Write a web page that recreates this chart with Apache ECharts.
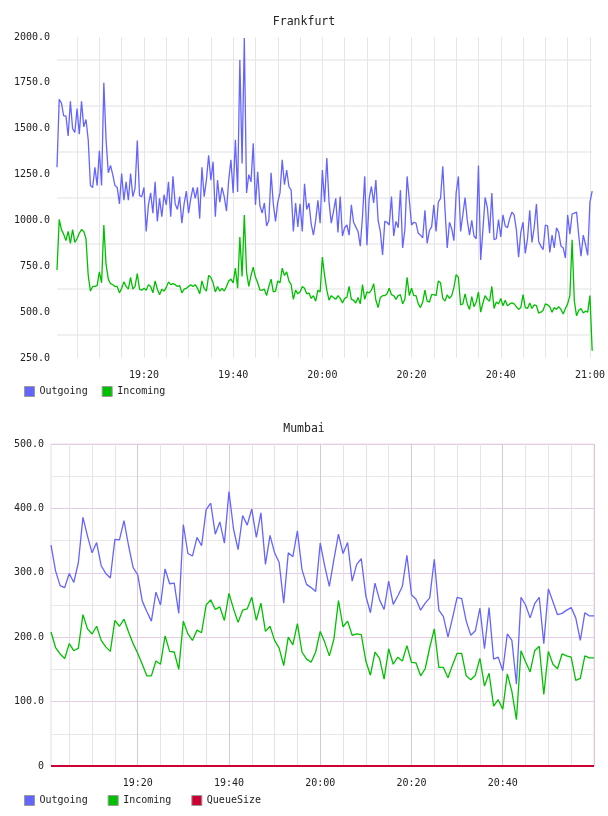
<!DOCTYPE html>
<html>
<head>
<meta charset="utf-8">
<title>Frankfurt / Mumbai</title>
<script src="https://cdn.jsdelivr.net/npm/echarts@6/dist/echarts.min.js"></script>
<style>
html, body { margin: 0; padding: 0; background: #fff; }
#container { width: 608px; height: 816px; }
</style>
</head>
<body>
<div id="container"></div>
<script>
var myChart = echarts.init(document.getElementById('container'));

// Frankfurt, one sample every 30 s starting 19:00:30
var fraOutgoing = [
  1290,1660,1640,1570,1570,1460,1650,1500,1480,1610,
  1470,1650,1510,1550,1440,1190,1180,1290,1190,1380,
  1190,1750,1440,1260,1300,1250,1190,1180,1090,1255,
  1110,1210,1110,1255,1130,1175,1435,1135,1130,1180,
  940,1085,1150,1040,1210,995,1120,1020,1140,1085,
  1210,1020,1240,1090,1060,1130,985,1090,1160,1040,
  1120,1180,1120,1180,1010,1290,1130,1220,1355,1220,
  1320,1020,1220,1100,1180,1130,1050,1220,1330,1150,
  1440,1155,1875,1310,1995,1150,1250,1210,1420,1085,
  1265,1080,1040,1095,970,1000,1260,1090,995,1100,
  1150,1330,1195,1275,1185,1165,940,1095,965,1090,
  940,1200,1060,1095,980,920,1000,1110,985,1275,
  1100,1340,1100,985,1050,1120,935,1130,915,960,
  975,920,1085,990,965,940,860,1020,1240,865,
  1120,1185,1095,1220,1000,940,812,995,990,975,
  1130,915,995,960,1165,850,950,1240,1110,975,
  990,985,930,920,905,1055,875,945,965,1085,
  940,1100,1120,1295,1060,850,990,955,890,1150,
  1240,940,1030,1125,1000,920,1000,915,900,1300,
  785,950,1125,1070,930,1150,895,900,1005,910,
  1030,970,960,1010,1045,1030,950,800,935,990,
  820,900,1055,880,960,1090,885,860,840,975,
  970,825,920,850,960,935,860,850,795,1030,
  925,1035,1040,1045,915,805,920,870,810,1100,1160
];
var fraIncoming = [
  730,1005,950,925,890,940,875,950,880,900,
  930,950,940,900,700,615,640,640,645,720,
  660,975,760,680,655,650,640,640,605,630,
  665,640,625,690,625,640,710,625,620,630,
  620,650,640,605,670,625,595,625,615,635,
  665,650,655,650,640,645,605,625,630,640,
  650,640,650,630,600,670,630,615,700,690,
  660,610,640,615,630,615,640,670,680,660,
  740,630,910,695,1030,720,640,700,745,690,
  660,620,620,625,590,640,680,610,615,670,
  660,740,700,720,670,650,570,620,600,610,
  640,630,600,605,575,590,560,620,610,800,
  700,620,565,590,580,570,590,575,550,575,
  580,640,570,565,550,580,545,650,570,610,
  605,620,655,565,525,580,590,590,600,630,
  595,590,570,590,595,545,570,690,590,630,
  590,590,545,525,555,620,560,555,595,595,
  590,670,660,575,560,595,575,590,635,705,
  690,540,545,600,545,515,585,530,555,610,
  500,550,590,570,560,640,520,555,545,575,
  535,565,535,545,550,545,530,515,525,595,
  525,520,550,520,540,535,495,500,510,545,
  540,530,500,525,515,530,515,490,520,545,
  590,895,560,480,510,520,495,505,500,590,290
];

// Mumbai, one sample per minute starting 19:01
var mumOutgoing = [
  343,303,280,277,299,285,316,386,357,331,
  347,311,299,292,352,351,381,342,308,297,
  256,240,225,270,250,306,283,284,237,375,
  330,326,355,342,398,408,360,379,346,426,
  368,336,389,374,399,355,393,313,358,331,
  316,253,331,325,365,305,282,277,271,346,
  310,279,321,360,330,347,287,313,322,264,
  238,284,258,243,287,251,264,279,327,266,
  259,242,253,261,321,242,232,200,230,262,
  260,225,203,210,245,182,246,166,169,148,
  205,195,127,262,250,230,252,262,190,275,
  255,235,237,242,246,230,195,238,233,233
];
var mumIncoming = [
  208,184,174,167,190,179,183,235,213,205,
  217,195,185,178,226,217,228,208,190,175,
  158,140,140,163,158,202,178,177,150,225,
  205,195,211,207,250,258,243,247,226,268,
  244,223,242,244,262,226,253,209,217,195,
  183,156,200,188,221,177,166,161,177,209,
  192,171,197,257,216,225,203,205,204,163,
  141,177,167,135,182,158,169,163,187,161,
  160,140,151,184,213,153,153,137,157,175,
  175,140,134,141,167,124,144,93,103,88,
  143,116,72,179,162,146,179,186,111,178,
  158,151,174,171,169,133,136,171,168,168
];
var mumQueueSize = [
  0,0,0,0,0,0,0,0,0,0, 0,0,0,0,0,0,0,0,0,0,
  0,0,0,0,0,0,0,0,0,0, 0,0,0,0,0,0,0,0,0,0,
  0,0,0,0,0,0,0,0,0,0, 0,0,0,0,0,0,0,0,0,0,
  0,0,0,0,0,0,0,0,0,0, 0,0,0,0,0,0,0,0,0,0,
  0,0,0,0,0,0,0,0,0,0, 0,0,0,0,0,0,0,0,0,0,
  0,0,0,0,0,0,0,0,0,0, 0,0,0,0,0,0,0,0,0,0
];

var fraTimeLabels = ['19:20', '19:40', '20:00', '20:20', '20:40', '21:00'];
var mumTimeLabels = ['19:20', '19:40', '20:00', '20:20', '20:40'];

function pad(n) { return (n < 10 ? '0' : '') + n; }

// sample times as "hh:mm:ss"
function timeList(h, m, s, step, n) {
  var out = [];
  var t = h * 3600 + m * 60 + s;
  for (var i = 0; i < n; i++) {
    out.push(Math.floor(t / 3600) + ':' + pad(Math.floor(t % 3600 / 60)) + ':' + pad(t % 60));
    t += step;
  }
  return out;
}

var fraTimes = timeList(19, 0, 30, 30, fraOutgoing.length);
var mumTimes = timeList(19, 1, 0, 60, mumOutgoing.length);

function onMinute(v) { return v.slice(-2) === '00'; }
function labelsAt(list) {
  return function (i, v) { return onMinute(v) && list.indexOf(v.slice(0, 5)) >= 0; };
}
function every5(i, v) { return onMinute(v) && +v.slice(-5, -3) % 5 === 0; }
function every20(i, v) { return onMinute(v) && +v.slice(-5, -3) % 20 === 0; }
function hhmm(v) { return v.slice(0, 5); }

var font = 'DejaVu Sans Mono';
var tickText = { fontFamily: font, fontSize: 10, color: '#222' };
var titleText = { fontFamily: font, fontSize: 11.5, fontWeight: 'normal', color: '#222' };
var legendText = { fontFamily: font, fontSize: 10, color: '#222' };

var blue = '#6464ff', green = '#00c000', red = '#cc0033';

var option = {
  animation: false,
  title: [
    { text: 'Frankfurt', left: 'center', top: 11, textStyle: titleText },
    { text: 'Mumbai', left: 'center', top: 418, textStyle: titleText }
  ],
  legend: [
    { data: ['Outgoing', 'Incoming'], left: 19, top: 381, icon: 'rect',
      itemWidth: 10, itemHeight: 10, itemGap: 14,
      itemStyle: { borderColor: '#999', borderWidth: 1 }, textStyle: legendText },
    { data: ['Outgoing', 'Incoming', 'QueueSize'], left: 19, top: 790, icon: 'rect',
      itemWidth: 10, itemHeight: 10, itemGap: 20,
      itemStyle: { borderColor: '#999', borderWidth: 1 }, textStyle: legendText }
  ],
  grid: [
    { left: 57, top: 37, width: 537, height: 321 },
    { left: 51, top: 444, width: 543, height: 322,
      show: true, borderColor: '#ead8ea', borderWidth: 1 }
  ],
  xAxis: [
    { gridIndex: 0, type: 'category', data: fraTimes, boundaryGap: false,
      axisLine: { show: false }, axisTick: { show: false },
      axisLabel: Object.assign({ interval: labelsAt(fraTimeLabels), margin: 12, formatter: hhmm }, tickText),
      splitLine: { show: true, interval: every5, lineStyle: { color: '#e6e6e6', width: 1 } } },
    { gridIndex: 1, type: 'category', data: mumTimes, boundaryGap: false,
      axisLine: { show: false }, axisTick: { show: false },
      axisLabel: Object.assign({ interval: labelsAt(mumTimeLabels), margin: 12, formatter: hhmm }, tickText),
      splitLine: { show: true, interval: every5, lineStyle: { color: '#e8e2e8', width: 1 } } },
    { gridIndex: 1, type: 'category', data: mumTimes, boundaryGap: false, position: 'top',
      axisLine: { show: false }, axisTick: { show: false }, axisLabel: { show: false },
      splitLine: { show: true, interval: every20, lineStyle: { color: '#dcc6dc', width: 1 } } }
  ],
  yAxis: [
    { gridIndex: 0, type: 'value', min: 250, max: 2000, interval: 250,
      axisLine: { show: false }, axisTick: { show: false },
      axisLabel: Object.assign({ margin: 7,
        formatter: function (v) { return v.toFixed(1); } }, tickText),
      splitLine: { show: false },
      minorTick: { show: false, splitNumber: 2 },
      minorSplitLine: { show: true, lineStyle: { color: '#f0f0f0', width: 2 } } },
    { gridIndex: 1, type: 'value', min: 0, max: 500, interval: 100,
      axisLine: { show: false }, axisTick: { show: false },
      axisLabel: Object.assign({ margin: 7,
        formatter: function (v) { return v === 0 ? '0' : v.toFixed(1); } }, tickText),
      splitLine: { show: true, lineStyle: { color: '#e4cce4', width: 1 } },
      minorTick: { show: false, splitNumber: 2 },
      minorSplitLine: { show: true, lineStyle: { color: '#e8e8e8', width: 1 } } }
  ],
  series: [
    { name: 'Outgoing', type: 'line', xAxisIndex: 0, yAxisIndex: 0, data: fraOutgoing,
      showSymbol: false, color: blue, lineStyle: { width: 1.3 } },
    { name: 'Incoming', type: 'line', xAxisIndex: 0, yAxisIndex: 0, data: fraIncoming,
      showSymbol: false, color: green, lineStyle: { width: 1.3 } },
    { name: 'Outgoing', type: 'line', xAxisIndex: 1, yAxisIndex: 1, data: mumOutgoing,
      showSymbol: false, color: blue, lineStyle: { width: 1.3 } },
    { name: 'Incoming', type: 'line', xAxisIndex: 1, yAxisIndex: 1, data: mumIncoming,
      showSymbol: false, color: green, lineStyle: { width: 1.3 } },
    { name: 'QueueSize', type: 'line', xAxisIndex: 1, yAxisIndex: 1, data: mumQueueSize,
      showSymbol: false, clip: false, color: red, lineStyle: { width: 2 } }
  ]
};

myChart.setOption(option);
</script>
</body>
</html>
